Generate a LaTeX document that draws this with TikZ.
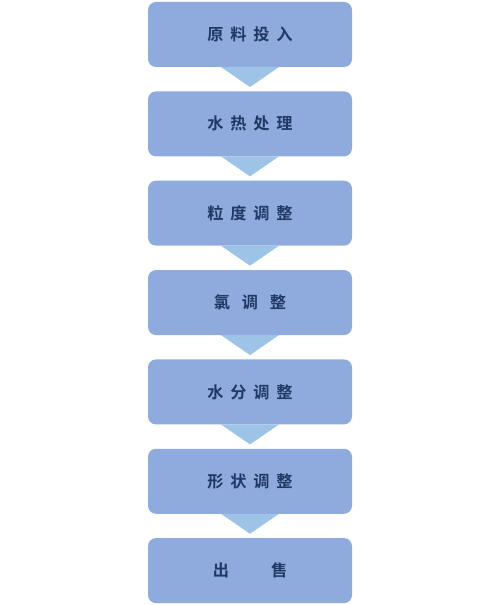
\documentclass[tikz,border=0pt]{standalone}
\usepackage{fontspec}
\setmainfont{Noto Sans CJK SC}[BoldFont={Noto Sans CJK SC Bold}]
\usepackage{tikz}
\usetikzlibrary{calc,positioning}
\definecolor{boxblue}{HTML}{8FAADC}
\definecolor{arrowblue}{HTML}{9DC3E6}
\definecolor{navy}{HTML}{1F3864}

\begin{document}
\begin{tikzpicture}[
  node distance=0.487cm,
  stepbox/.style={fill=boxblue,rounded corners=0.16cm,minimum width=4.08cm,minimum height=1.3cm,
    inner sep=0pt,outer sep=0pt,font=\fontsize{9.2}{11}\selectfont\bfseries,text=navy},
  downtri/.style={fill=arrowblue}
]
  \useasboundingbox (0,0) rectangle (10,-12.1);
  \node[stepbox] (s1) at (5,-0.69) {原\hspace{0.42em}料\hspace{0.42em}投\hspace{0.42em}入};
  \node[stepbox,below=of s1] (s2) {水\hspace{0.42em}热\hspace{0.42em}处\hspace{0.42em}理};
  \node[stepbox,below=of s2] (s3) {粒\hspace{0.42em}度\hspace{0.42em}调\hspace{0.42em}整};
  \node[stepbox,below=of s3] (s4) {氯\hspace{0.73em}调\hspace{0.73em}整};
  \node[stepbox,below=of s4] (s5) {水\hspace{0.42em}分\hspace{0.42em}调\hspace{0.42em}整};
  \node[stepbox,below=of s5] (s6) {形\hspace{0.42em}状\hspace{0.42em}调\hspace{0.42em}整};
  \node[stepbox,below=of s6] (s7) {出\hspace{2.6em}售};
  % arrows between the steps
  \foreach \i in {1,...,6}{
    \fill[downtri] ($(s\i.south)+(-0.58,0)$) -- ($(s\i.south)+(0.58,0)$) -- ($(s\i.south)+(0,-0.4)$) -- cycle;
  }
\end{tikzpicture}
\end{document}
